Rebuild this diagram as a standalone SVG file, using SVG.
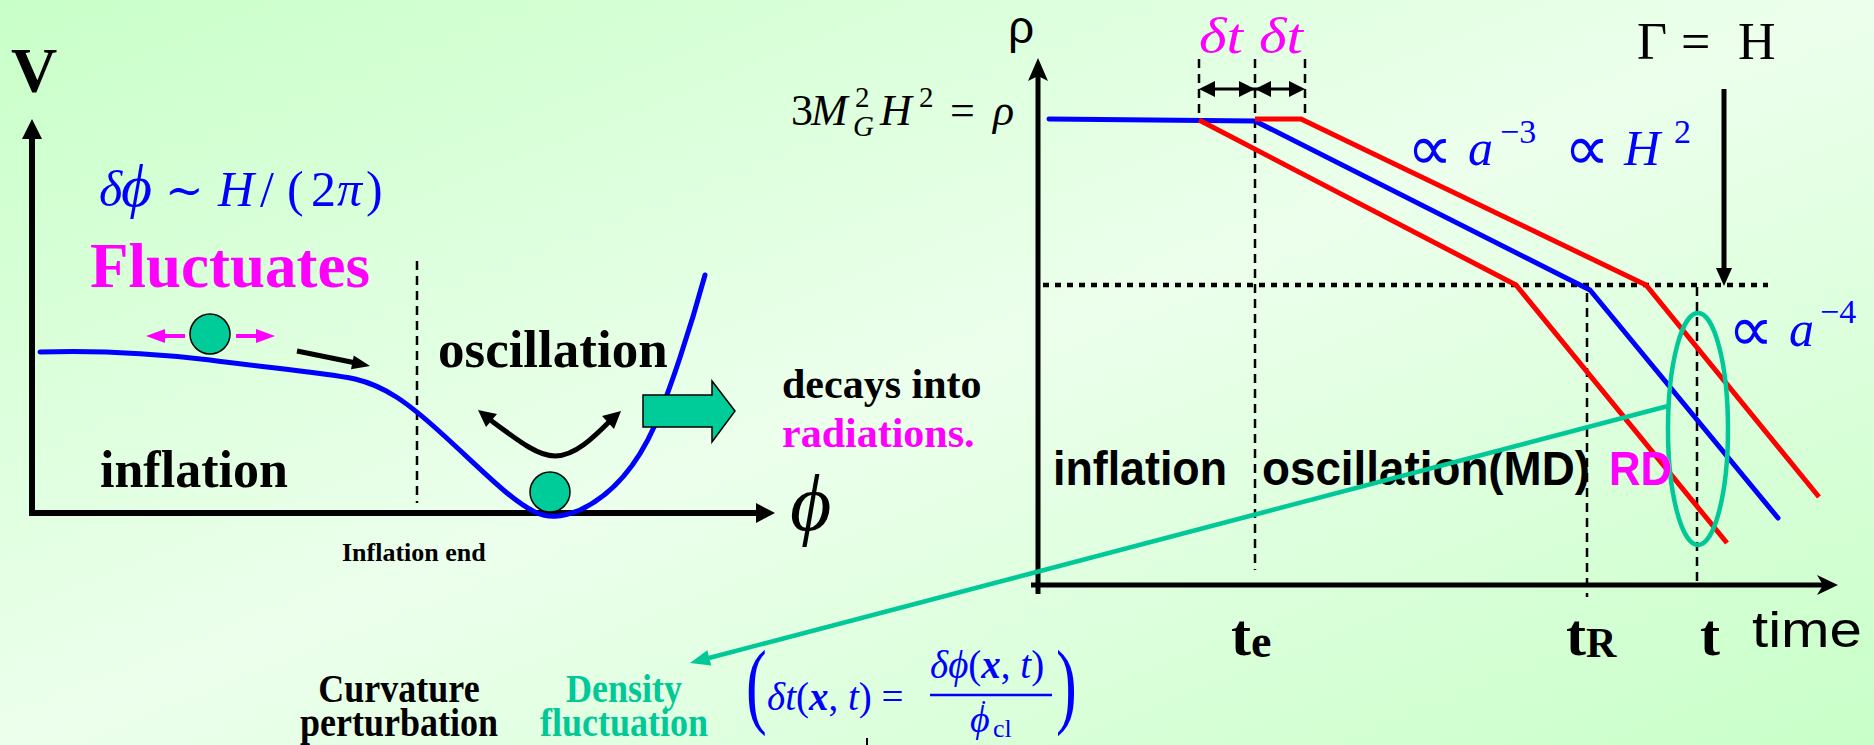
<svg xmlns="http://www.w3.org/2000/svg" width="1874" height="745" viewBox="0 0 1874 745">
<defs>
<linearGradient id="bg" x1="0" y1="0" x2="1" y2="1">
<stop offset="0" stop-color="#c8ffc8"/>
<stop offset="0.5" stop-color="#ecffec"/>
<stop offset="1" stop-color="#c8ffc8"/>
</linearGradient>
<style>
.ax{stroke:#000;stroke-width:6;fill:none}
.ax2{stroke:#000;stroke-width:5;fill:none}
.dash{stroke:#000;stroke-width:2.5;stroke-dasharray:9 6;fill:none}
.dot{stroke:#000;stroke-width:4.5;stroke-dasharray:6 6;fill:none}
.blue{stroke:#0000ff;stroke-width:5;fill:none;stroke-linejoin:round;stroke-linecap:round}
.red{stroke:#ff0000;stroke-width:5;fill:none;stroke-linejoin:miter}
.tealS{stroke:#00c896;stroke-width:4.5;fill:none}
.ball{fill:#00cc99;stroke:#000;stroke-width:1.5}
.sb{font-family:"Liberation Serif",serif;font-weight:bold}
.m{font-family:"Liberation Serif","DejaVu Serif",serif}
.pr{font-family:"DejaVu Serif",serif}
.prop{font-family:"DejaVu Sans",sans-serif;font-weight:200}
.it{font-style:italic}
.ss{font-family:"Liberation Sans",sans-serif}
.bl{fill:#0000ff}
.mg{fill:#ff00ff}
.tl{fill:#00c896}
</style>
</defs>
<rect x="0" y="0" width="1874" height="745" fill="url(#bg)"/>

<g id="left-chart">
<g id="left-axes">
<line class="ax" x1="32" y1="136" x2="32" y2="516"/>
<polygon points="32,119 22,139 42,139" fill="#000"/>
<line class="ax" x1="29" y1="513" x2="758" y2="513"/>
<polygon points="775,513 756,503 756,523" fill="#000"/>
<line class="dash" x1="417" y1="261" x2="417" y2="503"/>
</g>
<g id="potential">
<path class="blue" d="M40,352 C100,350 160,354 210,360 C260,367 320,372 355,379 C385,386 408,403 440,432 C480,468 510,500 535,512 C548,518 560,518 580,510 C610,496 635,470 655,425 C670,390 690,330 705,275"/>
</g>
<g id="ball1">
<circle class="ball" cx="210" cy="334" r="20"/>
<line x1="185" y1="336" x2="160" y2="336" stroke="#ff00ff" stroke-width="4"/>
<polygon points="146,336 165,329 165,343" fill="#ff00ff"/>
<line x1="236" y1="336" x2="260" y2="336" stroke="#ff00ff" stroke-width="4"/>
<polygon points="275,336 256,329 256,343" fill="#ff00ff"/>
</g>
<g id="roll-arrow">
<line x1="297" y1="351" x2="356" y2="363" stroke="#000" stroke-width="5"/>
<polygon points="370,366 353.8,355.5 351,369.3" fill="#000"/>
</g>
<g id="ball2">
<circle class="ball" cx="550" cy="492" r="20"/>
</g>
<g id="osc-arrow">
<path d="M489,419 C520,442 538,456 555,456 C575,456 594,437 610,421" stroke="#000" stroke-width="5" fill="none"/>
<polygon points="478,410 497,414 486,427" fill="#000"/>
<polygon points="621,411 614,429 602,416" fill="#000"/>
</g>
<g id="decay-arrow">
<polygon class="ball" points="643,395 712,395 712,381 735,411 712,442 712,427 643,427"/>
</g>
<g id="left-labels">
<text class="sb" x="34" y="92" font-size="64" text-anchor="middle">V</text>
<text class="m bl" y="206" font-size="50"><tspan class="it" x="99">δ</tspan><tspan class="it" x="121" font-size="60">ϕ</tspan><tspan class="pr" x="165" font-size="46">∼</tspan><tspan class="it" x="218">H</tspan><tspan x="260">/</tspan><tspan x="287">(</tspan><tspan x="311">2</tspan><tspan class="it" x="337">π</tspan><tspan x="366">)</tspan></text>
<text class="sb mg" x="90" y="287" font-size="63">Fluctuates</text>
<text class="sb" x="438" y="367" font-size="53">oscillation</text>
<text class="sb" x="100" y="487" font-size="52">inflation</text>
<text class="sb" x="342" y="561" font-size="26">Inflation end</text>
<text class="sb" x="782" y="398" font-size="42">decays into</text>
<text class="sb mg" x="782" y="447" font-size="42">radiations.</text>
<text class="m it" x="790" y="530" font-size="80">ϕ</text>
</g>
</g>

<g id="right-chart">
<g id="right-axes">
<line class="ax2" x1="1038" y1="72" x2="1038" y2="594"/>
<path d="M1038,58 L1048,81 L1038,76 L1028,81 Z" fill="#000"/>
<line class="ax2" x1="1031" y1="585" x2="1830" y2="585"/>
<path d="M1838,585 L1817,575 L1823,585 L1817,595 Z" fill="#000"/>
<line class="dot" x1="1043" y1="285" x2="1768" y2="285"/>
<line class="dash" x1="1199" y1="59" x2="1199" y2="117"/>
<line class="dash" x1="1255" y1="59" x2="1255" y2="570"/>
<line class="dash" x1="1305" y1="59" x2="1305" y2="117"/>
<line class="dash" x1="1587" y1="293" x2="1587" y2="597"/>
<line class="dash" x1="1697" y1="287" x2="1697" y2="583"/>
</g>
<g id="dt-arrows">
<line x1="1205" y1="89" x2="1299" y2="89" stroke="#000" stroke-width="3"/>
<polygon points="1199,89 1215,81 1215,97" fill="#000"/>
<polygon points="1255,89 1239,81 1239,97" fill="#000"/>
<polygon points="1255,89 1271,81 1271,97" fill="#000"/>
<polygon points="1305,89 1289,81 1289,97" fill="#000"/>
</g>
<g id="density-lines">
<polyline class="blue" points="1049,119 1255,121 1590,290 1778,518"/>
<polyline class="red" points="1199,120 1516,285 1727,543"/>
<polyline class="red" points="1255,119 1301,119 1646,285 1819,497"/>
</g>
<g id="highlight">
<ellipse class="tealS" cx="1698" cy="429" rx="30" ry="116"/>
</g>
<g id="gamma-arrow">
<line x1="1724" y1="89" x2="1724" y2="272" stroke="#000" stroke-width="5"/>
<polygon points="1724,286 1716,268 1732,268" fill="#000"/>
</g>
<g id="right-labels">
<text class="ss" x="1008" y="43" font-size="46">ρ</text>
<text class="m" y="125" font-size="44"><tspan x="791">3</tspan><tspan class="it" x="811">M</tspan><tspan class="it" x="880">H</tspan><tspan x="950">=</tspan><tspan class="it" x="993">ρ</tspan></text>
<text class="m" font-size="29"><tspan x="855" y="107">2</tspan><tspan x="919" y="107">2</tspan><tspan class="it" x="853" y="136">G</tspan></text>
<text class="m it mg" x="1199" y="53" font-size="50" textLength="44" lengthAdjust="spacingAndGlyphs">δt</text>
<text class="m it mg" x="1259" y="53" font-size="50" textLength="44" lengthAdjust="spacingAndGlyphs">δt</text>
<text class="m" y="59" font-size="52"><tspan x="1637">Γ</tspan><tspan x="1681">=</tspan><tspan x="1738">H</tspan></text>
<text class="prop bl" x="1407" y="170" font-size="64">∝</text>
<text class="prop bl" x="1564" y="170" font-size="64">∝</text>
<text class="prop bl" x="1728" y="351" font-size="64">∝</text>
<text class="m bl it" y="165" font-size="50"><tspan x="1468">a</tspan><tspan x="1624">H</tspan></text>
<text class="m bl" y="143" font-size="34"><tspan x="1500">−3</tspan><tspan x="1674">2</tspan></text>
<text class="m bl it" x="1789" y="346" font-size="50">a</text>
<text class="m bl" x="1820" y="323" font-size="34">−4</text>
<text class="ss" x="1053" y="485" font-size="48" font-weight="bold" textLength="174" lengthAdjust="spacingAndGlyphs">inflation</text>
<text class="ss" x="1262" y="485" font-size="48" font-weight="bold" textLength="328" lengthAdjust="spacingAndGlyphs">oscillation(MD)</text>
<text class="ss mg" x="1609" y="485" font-size="48" font-weight="bold" textLength="63" lengthAdjust="spacingAndGlyphs">RD</text>
<text class="sb" y="655" font-size="60"><tspan x="1231">t</tspan><tspan font-size="46" y="657">e</tspan></text>
<text class="sb" y="655" font-size="60"><tspan x="1566">t</tspan><tspan font-size="42" y="657">R</tspan></text>
<text class="sb" x="1700" y="655" font-size="60">t</text>
<text class="ss" x="1752" y="647" font-size="50" textLength="110" lengthAdjust="spacingAndGlyphs">time</text>
</g>
</g>

<g id="connectors">
<line class="tealS" x1="1668" y1="406" x2="709" y2="658"/>
<polygon points="690,663 711.3,665.6 707.3,650.2" fill="#00c896"/>
</g>

<g id="bottom-labels">
<text class="sb" x="0" y="0" font-size="36" text-anchor="middle" transform="translate(399,702) scale(1,1.12)">Curvature</text>
<text class="sb" x="0" y="0" font-size="36" text-anchor="middle" transform="translate(399,736) scale(1,1.12)">perturbation</text>
<text class="sb tl" x="0" y="0" font-size="36" text-anchor="middle" transform="translate(624,702) scale(1,1.12)">Density</text>
<text class="sb tl" x="0" y="0" font-size="36" text-anchor="middle" transform="translate(624,736) scale(1,1.12)">fluctuation</text>
<g id="formula" class="bl">
<text class="m" x="0" y="0" font-size="96" transform="translate(746,716) scale(0.65,1)">(</text>
<text class="m" y="710" font-size="39"><tspan class="it" x="767">δt</tspan><tspan>(</tspan><tspan class="it" font-weight="bold">x</tspan><tspan>, </tspan><tspan class="it">t</tspan><tspan>) =</tspan></text>
<text class="m" y="678" font-size="39"><tspan class="it" x="930">δϕ</tspan><tspan>(</tspan><tspan class="it" font-weight="bold">x</tspan><tspan>, </tspan><tspan class="it">t</tspan><tspan>)</tspan></text>
<line x1="930" y1="695" x2="1052" y2="695" stroke="#0000ff" stroke-width="2.5"/>
<text class="m" y="732" font-size="38"><tspan class="it" x="970">ϕ</tspan><tspan x="979" y="719" font-size="28">˙</tspan><tspan x="993" y="737" font-size="26">cl</tspan></text>
<text class="m" x="0" y="0" font-size="96" transform="translate(1056,716) scale(0.65,1)">)</text>
</g>
<line x1="867" y1="738" x2="867" y2="745" stroke="#000" stroke-width="2"/>
</g>
</svg>
